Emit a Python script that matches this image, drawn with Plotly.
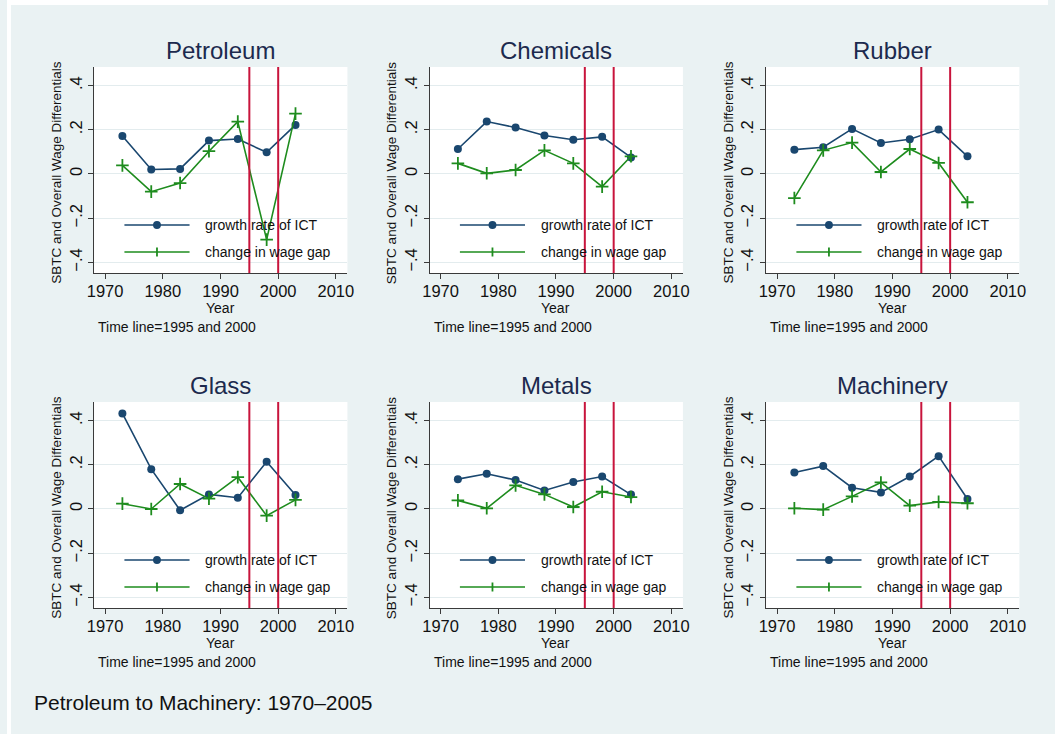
import plotly.graph_objects as go

# ---- data -------------------------------------------------------------
years = [1973, 1978, 1983, 1988, 1993, 1998, 2003]
industries = ["Petroleum", "Chemicals", "Rubber", "Glass", "Metals", "Machinery"]

ict_petroleum = [0.172, 0.020, 0.023, 0.151, 0.158, 0.098, 0.222]
wage_petroleum = [0.039, -0.080, -0.041, 0.103, 0.237, -0.297, 0.273]

ict_chemicals = [0.113, 0.237, 0.210, 0.174, 0.155, 0.168, 0.075]
wage_chemicals = [0.048, 0.003, 0.018, 0.107, 0.048, -0.057, 0.080]

ict_rubber = [0.110, 0.121, 0.204, 0.140, 0.157, 0.201, 0.080]
wage_rubber = [-0.109, 0.107, 0.142, 0.009, 0.113, 0.050, -0.128]

ict_glass = [0.432, 0.180, -0.006, 0.066, 0.051, 0.214, 0.063]
wage_glass = [0.024, 0.000, 0.113, 0.047, 0.144, -0.030, 0.041]

ict_metals = [0.135, 0.159, 0.131, 0.084, 0.122, 0.147, 0.065]
wage_metals = [0.039, 0.003, 0.107, 0.066, 0.009, 0.078, 0.054]

ict_machinery = [0.165, 0.194, 0.096, 0.075, 0.147, 0.239, 0.045]
wage_machinery = [0.003, -0.003, 0.057, 0.120, 0.015, 0.032, 0.026]

ict_series = [ict_petroleum, ict_chemicals, ict_rubber, ict_glass, ict_metals, ict_machinery]
wage_series = [wage_petroleum, wage_chemicals, wage_rubber, wage_glass, wage_metals, wage_machinery]

time_lines = [1995, 2000]
x_ticks = [1970, 1980, 1990, 2000, 2010]
y_ticks = [-0.4, -0.2, 0.0, 0.2, 0.4]
y_tick_text = ["\u2212.4", "\u2212.2", "0", ".2", ".4"]

legend_labels = ["growth rate of ICT", "change in wage gap"]
y_title = "SBTC and Overall Wage Differentials"
x_title = "Year"
note_text = "Time line=1995 and 2000"
caption = "Petroleum to Machinery: 1970\u20132005"

# ---- styling ----------------------------------------------------------
W, H = 1055, 734
FONT = "Liberation Sans, Arial, sans-serif"
BG = "#EAF2F3"
NAVY = "#1A476F"
GREEN = "#1E8C1E"
RED = "#C8143C"
AXIS = "#3A3A3A"
GRID = "#E3ECEE"
TITLE_C = "#1C2A4E"

col_left = [88.3, 428.3, 769.3]
row_top = [67.0, 402.0]
pw, ph = 256.7, 206.0
x_range = [1968.1, 2012.0]
y_range = [-0.448, 0.484]


def fx(px):
    return px / W


def fy(py):
    return 1 - py / H


fig = go.Figure()
shapes = []
annotations = []

for i, name in enumerate(industries):
    r, c = divmod(i, 3)
    left, top = col_left[c], row_top[r]
    k = "" if i == 0 else str(i + 1)
    xa, ya = "x" + k, "y" + k

    fig.add_trace(go.Scatter(
        x=years, y=ict_series[i], xaxis=xa, yaxis=ya, mode="lines+markers",
        line=dict(color=NAVY, width=1.6),
        marker=dict(symbol="circle", size=8, color=NAVY),
        showlegend=False, hoverinfo="x+y"))
    fig.add_trace(go.Scatter(
        x=years, y=wage_series[i], xaxis=xa, yaxis=ya, mode="lines+markers",
        line=dict(color=GREEN, width=1.6),
        marker=dict(symbol="cross-thin", size=9, color=GREEN,
                    line=dict(color=GREEN, width=1.8)),
        showlegend=False, hoverinfo="x+y"))

    axis_common = dict(showline=True, linecolor=AXIS, linewidth=1,
                       ticks="outside", ticklen=5, tickcolor=AXIS, tickwidth=1,
                       zeroline=False, mirror=False,
                       tickfont=dict(family=FONT, size=16.5, color="#111111"))
    fig.layout["xaxis" + k] = dict(
        domain=[fx(left), fx(left + pw)], anchor=ya, range=x_range,
        tickvals=x_ticks, showgrid=False, ticklabelstandoff=-2, **axis_common)
    fig.layout["yaxis" + k] = dict(
        domain=[fy(top + ph), fy(top)], anchor=xa, range=y_range,
        tickvals=y_ticks, ticktext=y_tick_text, tickangle=-90,
        showgrid=True, gridcolor=GRID, gridwidth=1, **axis_common)

    # vertical time lines
    for t in time_lines:
        shapes.append(dict(type="line", xref=xa, yref=ya + " domain",
                           x0=t, x1=t, y0=0, y1=1,
                           line=dict(color=RED, width=2), layer="above"))

    # panel title
    annotations.append(dict(text=name, x=fx(left + pw / 2), y=fy(top - 17),
                            xref="paper", yref="paper", showarrow=False,
                            xanchor="center", yanchor="middle",
                            font=dict(family=FONT, size=24, color=TITLE_C)))
    # axis titles
    annotations.append(dict(text=y_title, x=fx(left - 39), y=fy(top + ph / 2 + 3),
                            xref="paper", yref="paper", showarrow=False,
                            textangle=-90, xanchor="center", yanchor="middle",
                            font=dict(family=FONT, size=13.5, color="#111111")))
    annotations.append(dict(text=x_title, x=fx(left + 127.7), y=fy(top + 241),
                            xref="paper", yref="paper", showarrow=False,
                            xanchor="center", yanchor="middle",
                            font=dict(family=FONT, size=14, color="#111111")))
    annotations.append(dict(text=note_text, x=fx(left + 2), y=fy(top + 260),
                            xref="paper", yref="paper", showarrow=False,
                            xanchor="left", yanchor="middle",
                            font=dict(family=FONT, size=14, color="#111111")))

    # in-plot legend keys
    for j, (label, colr) in enumerate(zip(legend_labels, [NAVY, GREEN])):
        ly = top + 158 + 27 * j
        shapes.append(dict(type="line", xref="paper", yref="paper",
                           x0=fx(left + 30.7), x1=fx(left + 96.7),
                           y0=fy(ly), y1=fy(ly),
                           line=dict(color=colr, width=1.6), layer="above"))
        mx = left + 63.7
        if j == 0:
            shapes.append(dict(type="circle", xref="paper", yref="paper",
                               x0=fx(mx - 4), x1=fx(mx + 4),
                               y0=fy(ly - 4), y1=fy(ly + 4),
                               fillcolor=colr, line=dict(color=colr, width=0),
                               layer="above"))
        else:
            shapes.append(dict(type="line", xref="paper", yref="paper",
                               x0=fx(mx), x1=fx(mx), y0=fy(ly - 4.5), y1=fy(ly + 4.5),
                               line=dict(color=colr, width=1.8), layer="above"))
        annotations.append(dict(text=label, x=fx(left + 110.5), y=fy(ly),
                                xref="paper", yref="paper", showarrow=False,
                                xanchor="left", yanchor="middle",
                                font=dict(family=FONT, size=14, color="#111111")))

# white outer strips around the graph region
shapes.append(dict(type="rect", xref="paper", yref="paper", x0=0, x1=1,
                   y0=fy(5), y1=1, fillcolor="white", line=dict(width=0), layer="below"))
shapes.append(dict(type="rect", xref="paper", yref="paper", x0=0, x1=fx(4),
                   y0=0, y1=1, fillcolor="white", line=dict(width=0), layer="below"))

annotations.append(dict(text=caption, x=fx(25), y=fy(702), xref="paper", yref="paper",
                        showarrow=False, xanchor="left", yanchor="middle",
                        font=dict(family=FONT, size=21, color="#111111")))

fig.update_layout(
    width=W, height=H, margin=dict(l=0, r=0, t=0, b=0),
    paper_bgcolor=BG, plot_bgcolor="white",
    shapes=shapes, annotations=annotations, showlegend=False,
    font=dict(family=FONT),
)

fig.write_html("out.html")
